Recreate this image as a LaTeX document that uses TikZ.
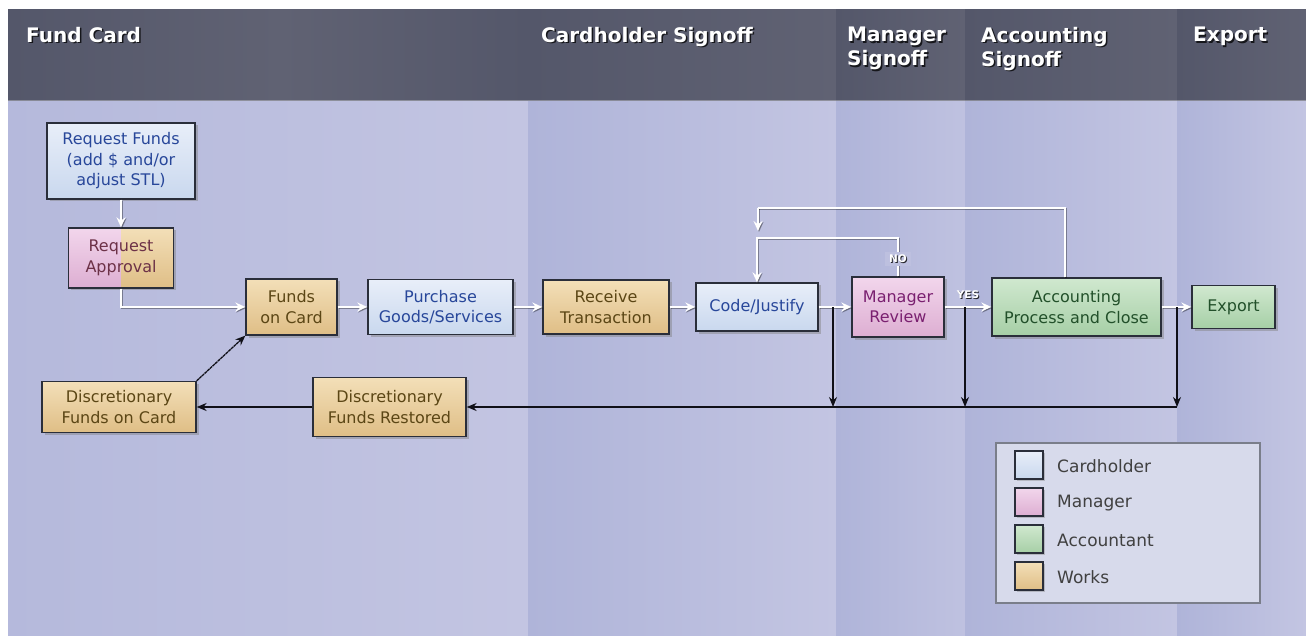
\documentclass[tikz,border=0pt]{standalone}
\usepackage{fontspec}
\setmainfont{DejaVu Sans}
\usetikzlibrary{arrows.meta,shadows}
\definecolor{hdA}{HTML}{54576A}
\definecolor{hdB}{HTML}{606273}
\definecolor{bdA}{HTML}{AFB4D9}
\definecolor{bdB}{HTML}{C3C5E2}
\definecolor{blueT}{HTML}{E8EEF9}
\definecolor{blueB}{HTML}{C9D8EE}
\definecolor{blueTx}{HTML}{28479A}
\definecolor{tanT}{HTML}{F3DFB8}
\definecolor{tanB}{HTML}{DFBE86}
\definecolor{tanTx}{HTML}{5B4615}
\definecolor{pinkT}{HTML}{F2D6EC}
\definecolor{pinkB}{HTML}{DDAED2}
\definecolor{pinkTx}{HTML}{7A2070}
\definecolor{grnT}{HTML}{D0E8CF}
\definecolor{grnB}{HTML}{A6CFA6}
\definecolor{grnTx}{HTML}{22502A}
\definecolor{edge}{HTML}{2A2E3A}
\definecolor{legfill}{HTML}{D7DAEB}
\definecolor{legedge}{HTML}{7A7E8A}
\definecolor{ink}{HTML}{101018}
\tikzset{
  box/.style={rectangle, draw=edge, line width=1.3pt, align=center, inner sep=2pt,
    font=\fontsize{16}{20.5}\selectfont,
    drop shadow={shadow xshift=2.5pt, shadow yshift=-2.5pt, opacity=0.45}},
  bluebox/.style={box, top color=blueT, bottom color=blueB, text=blueTx},
  tanbox/.style={box, top color=tanT, bottom color=tanB, text=tanTx},
  pinkbox/.style={box, top color=pinkT, bottom color=pinkB, text=pinkTx},
  grnbox/.style={box, top color=grnT, bottom color=grnB, text=grnTx},
  warrow/.style={draw=white, line width=1.8pt, -{Stealth[length=10pt,width=9pt]},
    preaction={draw=black, opacity=0.35, line width=1.8pt, -{Stealth[length=10pt,width=9pt]},
      transform canvas={shift={(1pt,-1pt)}}}},
  wline/.style={draw=white, line width=1.8pt,
    preaction={draw=black, opacity=0.35, line width=1.8pt, transform canvas={shift={(1pt,-1pt)}}}},
  barrow/.style={draw=ink, line width=1.3pt, -{Stealth[length=10pt,width=8pt]}},
  hdrtxt/.style={anchor=north west, inner sep=0pt, align=left, text=white,
    font=\bfseries\fontsize{20}{24}\selectfont},
  tag/.style={inner sep=0pt, text=white, font=\bfseries\fontsize{10.5}{11}\selectfont},
  swatch/.style={rectangle, draw=edge, line width=1.3pt, minimum width=28pt, minimum height=28pt,
    drop shadow={shadow xshift=2pt, shadow yshift=-2pt, opacity=0.4}},
  legtxt/.style={anchor=west, inner sep=0pt, text=black!75, font=\fontsize{17}{20}\selectfont}
}
\newcommand\hdr[4]{%
  \node[hdrtxt, text=black, opacity=0.75] (#1s) at (#2+1.5,#3+1.5) {#4};
  \node[hdrtxt] (#1) at (#2,#3) {#4};}
\begin{document}
\begin{tikzpicture}[x=1pt,y=-1pt]
\useasboundingbox (0,0) rectangle (1306,636);
\fill[white] (0,0) rectangle (1306,636);
% body columns
\shade[left color=bdA!70!bdB, right color=bdB] (8,101) rectangle (528,636);
\shade[left color=bdA, right color=bdB] (528,101) rectangle (836,636);
\shade[left color=bdA, right color=bdB!80!bdA] (836,101) rectangle (965,636);
\shade[left color=bdA, right color=bdB] (965,101) rectangle (1177,636);
\shade[left color=bdA, right color=bdB] (1177,101) rectangle (1306,636);
% header
\shade[left color=hdA, right color=hdB] (8,10) rectangle (280,101);
\shade[left color=hdB, right color=hdA] (280,10) rectangle (528,101);
\shade[left color=hdA, right color=hdB] (528,10) rectangle (836,101);
\shade[left color=hdA, right color=hdB] (836,10) rectangle (965,101);
\shade[left color=hdA, right color=hdB] (965,10) rectangle (1177,101);
\shade[left color=hdA, right color=hdB] (1177,10) rectangle (1306,101);
\draw[color=white, opacity=0.3, line width=1pt] (8,101) -- (1306,101);
\hdr{h1}{26}{27}{Fund Card}
\hdr{h2}{541}{27}{Cardholder Signoff}
\hdr{h3}{847}{27}{Manager\\Signoff}
\hdr{h4}{981}{27}{Accounting\\Signoff}
\hdr{h5}{1193}{27}{Export}
% nodes
\node[bluebox, minimum width=148pt, minimum height=76pt] (reqfunds) at (121,161) {Request Funds\\(add \$ and/or\\adjust STL)};
\node[box, minimum width=105pt, minimum height=60pt, text=pinkTx!55!tanTx,
  path picture={
    \fill[top color=pinkT, bottom color=pinkB] (path picture bounding box.north west) rectangle (path picture bounding box.south);
    \fill[top color=tanT, bottom color=tanB] (path picture bounding box.north) rectangle (path picture bounding box.south east);}]
  (reqappr) at (121,258) {Request\\Approval};
\node[tanbox, minimum width=91pt, minimum height=56pt] (funds) at (291.5,307) {Funds\\on Card};
\node[bluebox, minimum width=145pt, minimum height=55pt] (purchase) at (440.5,307) {Purchase\\Goods/Services};
\node[tanbox, minimum width=126pt, minimum height=54pt] (receive) at (606,307) {Receive\\Transaction};
\node[bluebox, minimum width=122pt, minimum height=48pt] (code) at (757,307) {Code/Justify};
\node[pinkbox, minimum width=92pt, minimum height=60pt] (mgr) at (898,307) {Manager\\Review};
\node[grnbox, minimum width=169pt, minimum height=58pt] (acct) at (1076.5,307) {Accounting\\Process and Close};
\node[grnbox, minimum width=83pt, minimum height=43pt] (export) at (1233.5,307) {Export};
\node[tanbox, minimum width=154pt, minimum height=51pt] (dcard) at (119,407) {Discretionary\\Funds on Card};
\node[tanbox, minimum width=153pt, minimum height=59pt] (drest) at (389.5,407) {Discretionary\\Funds Restored};
% white connectors
\draw[warrow] (reqfunds.south) -- (reqfunds.south |- reqappr.north);
\draw[warrow] (reqappr.south) |- (funds.west);
\draw[warrow] (funds.east) -- (purchase.west);
\draw[warrow] (purchase.east) -- (receive.west);
\draw[warrow] (receive.east) -- (code.west);
\draw[warrow] (code.east) -- (mgr.west);
\draw[warrow] (mgr.east) -- (acct.west);
\draw[warrow] (acct.east) -- (export.west);
\coordinate (notop) at (898,238);
\draw[warrow] (mgr.north) -- (notop) -| (code.north);
\coordinate (acctop) at (1065,208);
\coordinate (lcorner) at (758,208);
\coordinate (lend) at (758,231);
\draw[wline] (acct.north -| acctop) -- (acctop) -- (lcorner);
\draw[warrow] (lcorner) -- (lend);
% NO / YES tags
\fill[bdB!70!bdA] (885,252) rectangle (911,266);
\node[tag, text=black, opacity=0.8] (nos) at (899,260) {NO};
\node[tag] (no) at (898,259) {NO};
\node[tag, text=black, opacity=0.8] (yess) at (969,296) {YES};
\node[tag] (yes) at (968,295) {YES};
% black connectors
\coordinate (t1) at (833,307); \coordinate (b1) at (833,407);
\coordinate (t2) at (965,307); \coordinate (b2) at (965,407);
\coordinate (t3) at (1177,307); \coordinate (b3) at (1177,407);
\draw[barrow] (t1) -- (b1);
\draw[barrow] (t2) -- (b2);
\draw[barrow] (t3) -- (b3);
\draw[barrow] (b3) -- (drest.east);
\draw[barrow] (drest.west) -- (dcard.east);
\draw[barrow, dash pattern=on 3pt off 0.6pt] (dcard.north east) -- (funds.south west);
% legend
\node[rectangle, draw=legedge, line width=1.2pt, fill=legfill, minimum width=264pt, minimum height=160pt] (legend) at (1128,523) {};
\node[swatch, top color=blueT, bottom color=blueB] (s1) at (1029,465) {};
\node[swatch, top color=pinkT, bottom color=pinkB] (s2) at (1029,502) {};
\node[swatch, top color=grnT, bottom color=grnB] (s3) at (1029,539) {};
\node[swatch, top color=tanT, bottom color=tanB] (s4) at (1029,576) {};
\node[legtxt] (l1) at (1057,466) {Cardholder};
\node[legtxt] (l2) at (1057,503) {Manager};
\node[legtxt] (l3) at (1057,540) {Accountant};
\node[legtxt] (l4) at (1057,577) {Works};
\end{tikzpicture}
\end{document}
